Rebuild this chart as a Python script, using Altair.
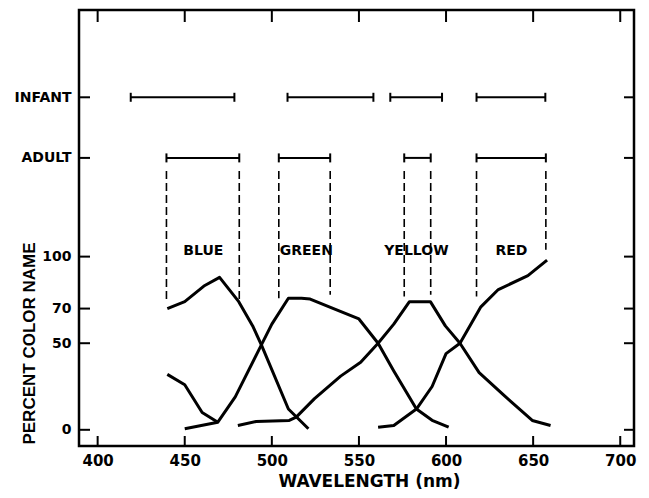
import altair as alt
import pandas as pd

# ---- data ----
blue_nm = [440, 450, 461, 470, 481, 489, 494, 509.5, 521]
blue_val = [70, 74, 83, 88, 74, 60, 49, 12, 0.6]

short_nm = [440, 450, 460, 469]
short_val = [32, 26, 10, 4.4]

green_nm = [450, 469, 479, 494, 500, 509.5, 517, 522, 534, 550, 561, 570, 583, 592, 601.5]
green_val = [0.6, 4.4, 19, 49, 61, 76, 76, 75.5, 70.5, 64, 50, 34, 12, 5.5, 1.5]

yellow_nm = [480.5, 491, 510, 514, 524.5, 539.5, 551, 561, 570, 579, 591, 599.6, 608, 619, 632.5, 649.5, 660]
yellow_val = [2.5, 4.8, 5.4, 7.3, 18, 31, 39, 50, 61, 74, 74, 60, 50, 33, 20.6, 5.4, 2.5]

red_nm = [561, 570, 583, 592, 600, 608, 620, 630, 647, 658]
red_val = [1.5, 2.5, 12, 25, 44, 50, 71, 81, 89, 98]

ADULT_LEVEL = 157
INFANT_LEVEL = 192
infant_start = [419, 509, 568, 617.5]
infant_end = [478.5, 558.3, 597.7, 657]
adult_start = [439.5, 504, 576, 617.5]
adult_end = [481.3, 533.5, 591.2, 657.3]

dash_nm = [439.5, 481.3, 504, 533.5, 576, 591.2, 617.5, 657.3]
dash_top = [149.5] * 8
dash_bottom = [74, 74, 76, 78, 77, 78, 77, 104]

color_names = ["BLUE", "GREEN", "YELLOW", "RED"]
color_name_nm = [460.7, 519.8, 583, 637.5]
color_name_val = [103.5, 103.5, 103.5, 103.5]

x_ticks = [400, 450, 500, 550, 600, 650, 700]
y_tick_values = [0, 50, 70, 100, ADULT_LEVEL, INFANT_LEVEL]
y_tick_labels = ["0", "50", "70", "100", "ADULT", "INFANT"]

# ---- tables ----
rows = []
for name, xs, ys in [("blue", blue_nm, blue_val), ("short", short_nm, short_val),
                     ("green", green_nm, green_val), ("yellow", yellow_nm, yellow_val),
                     ("red", red_nm, red_val)]:
    for i, (a, b) in enumerate(zip(xs, ys)):
        rows.append({"series": name, "nm": a, "val": b, "order": i})
curves = pd.DataFrame(rows)

bars = pd.DataFrame(
    [{"nm": s, "nm2": e, "val": INFANT_LEVEL} for s, e in zip(infant_start, infant_end)]
    + [{"nm": s, "nm2": e, "val": ADULT_LEVEL} for s, e in zip(adult_start, adult_end)]
)
caps = pd.DataFrame(
    [{"nm": v, "val": INFANT_LEVEL} for v in infant_start + infant_end]
    + [{"nm": v, "val": ADULT_LEVEL} for v in adult_start + adult_end]
)
dashes = pd.DataFrame({"nm": dash_nm, "val": dash_top, "val2": dash_bottom})
names = pd.DataFrame({"name": color_names, "nm": color_name_nm, "val": color_name_val})
xt = pd.DataFrame({"nm": x_ticks})
yt = pd.DataFrame({"val": y_tick_values})

label_expr = " : ".join(
    [f"datum.value == {v} ? '{l}'" for v, l in zip(y_tick_values, y_tick_labels)]
) + " : datum.label"

FONT = "DejaVu Sans"
W, H = 555, 436

X = alt.X(
    "nm:Q",
    scale=alt.Scale(domain=[389.3, 707.9], nice=False, zero=False),
    axis=alt.Axis(
        values=x_ticks, format="d", ticks=False, domain=False, grid=False,
        labelFont=FONT, labelFontWeight="bold", labelFontSize=15, labelColor="black",
        labelPadding=7, labelFlush=False,
        title="WAVELENGTH  (nm)", titleFont=FONT, titleFontWeight="bold", titleFontSize=17,
        titleColor="black", titleX=290, titleY=35, titleAnchor="middle", titleBaseline="middle",
    ),
)
Y = alt.Y(
    "val:Q",
    scale=alt.Scale(domain=[-9.35, 242.4], nice=False, zero=False),
    axis=alt.Axis(
        values=y_tick_values, labelExpr=label_expr, ticks=False, domain=False, grid=False,
        labelFont=FONT, labelFontWeight="bold", labelFontSize=14, labelColor="black",
        labelPadding=8, labelFlush=False,
        title="PERCENT COLOR NAME", titleFont="Liberation Sans", titleFontWeight="bold",
        titleFontSize=17, titleColor="black", titleAngle=270, titleX=-50, titleY=333,
        titleAlign="center", titleBaseline="middle",
    ),
)

curve_layer = alt.Chart(curves).mark_line(color="black", strokeWidth=3, strokeJoin="round").encode(
    x=X, y=Y, detail="series:N", order="order:Q"
)
bar_layer = alt.Chart(bars).mark_rule(color="black", strokeWidth=2).encode(x=X, x2="nm2:Q", y=Y)
cap_layer = alt.Chart(caps).mark_point(
    shape="M0,-1L0,1", size=81, color="black", strokeWidth=2, opacity=1
).encode(x=X, y=Y)
dash_layer = alt.Chart(dashes).mark_rule(color="black", strokeWidth=1.6, strokeDash=[8, 4]).encode(
    x=X, y=Y, y2="val2:Q"
)
name_layer = alt.Chart(names).mark_text(
    font=FONT, fontWeight="bold", fontSize=14, color="black", baseline="middle", align="center"
).encode(x=X, y=Y, text="name:N")

tick_bottom = alt.Chart(xt).mark_rule(color="black", strokeWidth=2).encode(
    x=X, y=alt.value(H), y2=alt.value(H - 10)
)
tick_top = alt.Chart(xt).mark_rule(color="black", strokeWidth=2).encode(
    x=X, y=alt.value(0), y2=alt.value(12)
)
tick_left = alt.Chart(yt).mark_rule(color="black", strokeWidth=2).encode(
    y=Y, x=alt.value(0), x2=alt.value(11)
)
tick_right = alt.Chart(yt).mark_rule(color="black", strokeWidth=2).encode(
    y=Y, x=alt.value(W), x2=alt.value(W - 10)
)

chart = alt.layer(
    curve_layer, bar_layer, cap_layer, dash_layer, name_layer,
    tick_bottom, tick_top, tick_left, tick_right,
).properties(
    width=W, height=H,
    autosize=alt.AutoSizeParams(type="none"),
    padding={"left": 71, "top": 2, "right": 7, "bottom": 44},
    background="white",
).configure_view(stroke="black", strokeWidth=2.5)

chart.save("out.html", embed_options={"renderer": "svg", "actions": False})
